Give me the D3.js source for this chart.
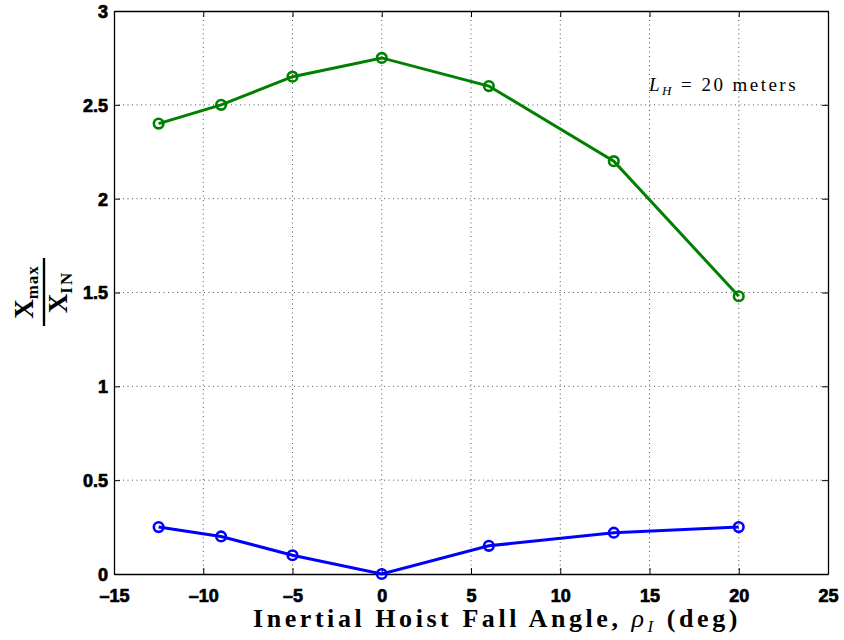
<!DOCTYPE html>
<html><head><meta charset="utf-8">
<script src="https://cdn.jsdelivr.net/npm/d3@7"></script>
<style>body{margin:0;background:#fff}
.tk{font-family:'Liberation Sans',Arial,Helvetica,sans-serif;font-weight:700;font-size:18px}</style>
</head><body>
<svg id="c" width="844" height="640"></svg>
<script>
const angles = [-12.5, -9, -5, 0, 6, 13, 20];
const greenVals = [2.4, 2.5, 2.65, 2.75, 2.6, 2.2, 1.48];
const blueVals = [0.25, 0.2, 0.1, 0.0, 0.15, 0.22, 0.25];
const xTicks = [-15, -10, -5, 0, 5, 10, 15, 20, 25];
const yTicks = [0, 0.5, 1, 1.5, 2, 2.5, 3];

const svg = d3.select("#c");
const L = 114, R = 828, T = 11, B = 574;
const x = d3.scaleLinear().domain([-15, 25]).range([L, R]);
const y = d3.scaleLinear().domain([0, 3]).range([B, T]);

// grid
const grid = svg.append("g").attr("stroke", "#555").attr("stroke-width", 1).attr("stroke-dasharray", "1,3.5");
xTicks.slice(1, -1).forEach(t => grid.append("line").attr("x1", x(t)).attr("x2", x(t)).attr("y1", T).attr("y2", B));
yTicks.slice(1, -1).forEach(t => grid.append("line").attr("y1", y(t)).attr("y2", y(t)).attr("x1", L).attr("x2", R));

const fmt = d => (d < 0 ? "\u2013" + Math.abs(d) : String(d));

// axes
const xAxis = svg.append("g").attr("transform", `translate(0,${B})`)
  .call(d3.axisBottom(x).tickValues(xTicks).tickSizeInner(-6).tickSizeOuter(0).tickPadding(15).tickFormat(fmt));
const xTop = svg.append("g").attr("transform", `translate(0,${T})`)
  .call(d3.axisTop(x).tickValues(xTicks).tickSizeInner(-6).tickSizeOuter(0).tickFormat(""));
const yAxis = svg.append("g").attr("transform", `translate(${L},0)`)
  .call(d3.axisLeft(y).tickValues(yTicks).tickSizeInner(-6).tickSizeOuter(0).tickPadding(6).tickFormat(d3.format("")));
const yRight = svg.append("g").attr("transform", `translate(${R},0)`)
  .call(d3.axisRight(y).tickValues(yTicks).tickSizeInner(-6).tickSizeOuter(0).tickFormat(""));
[xAxis, xTop, yAxis, yRight].forEach(g => {
  g.attr("font-family", null).attr("font-size", null).attr("class", "tk");
  g.select(".domain").attr("stroke", "#000").attr("stroke-width", 1.3);
  g.selectAll(".tick line").attr("stroke", "#000");
  g.selectAll("text").attr("class", "tk").attr("fill", "#000")
    .attr("stroke", "#000").attr("stroke-width", 0.7);
});
yAxis.selectAll("text").attr("dy", "0.36em");

// helper: stretch letter spacing to hit a target width
function fitWidth(sel, target) {
  const n = sel.text().length;
  const w = sel.node().getBBox().width;
  const cur = parseFloat(sel.attr("letter-spacing") || 0);
  sel.attr("letter-spacing", cur + (target - w) / n);
}

// series
const line = d3.line().x((d, i) => x(angles[i])).y(d => y(d));
[[greenVals, "#008000"], [blueVals, "#0000ff"]].forEach(([vals, col]) => {
  svg.append("path").datum(vals).attr("d", line).attr("fill", "none").attr("stroke", col).attr("stroke-width", 3);
  svg.append("g").selectAll("circle").data(vals).join("circle")
    .attr("cx", (d, i) => x(angles[i])).attr("cy", d => y(d)).attr("r", 4.8)
    .attr("fill", "none").attr("stroke", col).attr("stroke-width", 2.6);
});

const sf = "'Liberation Serif', 'DejaVu Serif', serif";

// annotation
const ann = svg.append("text").attr("x", 649).attr("y", 91)
  .attr("font-family", sf).attr("font-size", 19).attr("fill", "#000");
ann.append("tspan").attr("font-style", "italic").text("L");
ann.append("tspan").attr("font-style", "italic").attr("font-size", 13).attr("dy", 4).text("H");
ann.append("tspan").attr("dy", -4).text(" = 20 meters");
fitWidth(ann, 150);

// x label
const xl = svg.append("text").attr("x", 253).attr("y", 627)
  .attr("font-family", sf).attr("font-weight", "bold")
  .attr("font-size", 26).attr("fill", "#000");
xl.append("tspan").text("Inertial Hoist Fall Angle, ");
xl.append("tspan").attr("font-style", "italic").attr("font-weight", "normal").text("\u03C1");
xl.append("tspan").attr("font-style", "italic").attr("font-weight", "normal").attr("font-size", 17).attr("dy", 5).text("I");
xl.append("tspan").attr("dy", -5).text(" (deg)");
fitWidth(xl, 488);

// y label (fraction)
const yl = svg.append("g").attr("transform", "translate(44,292) rotate(-90)");
const num = yl.append("text").attr("x", 0).attr("y", -11).attr("text-anchor", "middle")
  .attr("font-family", sf).attr("font-weight", "bold").attr("font-size", 27).attr("fill", "#000");
num.append("tspan").text("X");
num.append("tspan").attr("font-size", 17).attr("dy", 5).attr("letter-spacing", 1).text("max");
yl.append("line").attr("x1", -34).attr("x2", 34).attr("y1", 0).attr("y2", 0).attr("stroke", "#000").attr("stroke-width", 2.4);
const den = yl.append("text").attr("x", 0).attr("y", 23).attr("text-anchor", "middle")
  .attr("font-family", sf).attr("font-weight", "bold").attr("font-size", 27).attr("fill", "#000");
den.append("tspan").text("X");
den.append("tspan").attr("font-size", 17).attr("dy", 5).attr("letter-spacing", 2).text("IN");
</script>
</body></html>
